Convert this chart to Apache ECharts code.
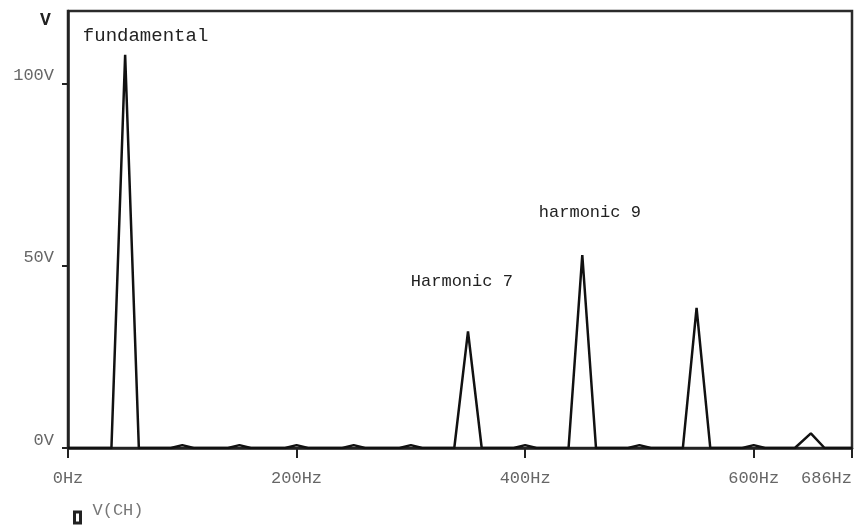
<!DOCTYPE html>
<html>
<head>
<meta charset="utf-8">
<script src="https://cdn.jsdelivr.net/npm/echarts@6/dist/echarts.min.js"></script>
<style>html,body{margin:0;padding:0;background:#fff}#c{width:865px;height:528px}</style>
</head>
<body>
<div id="c"></div>
<script>
// Spectrum samples (Hz, V)
const freqHz = [0, 38, 50, 62, 90, 100, 110, 140, 150, 160, 190, 200, 210, 240, 250, 260, 290, 300, 310, 338, 350, 362, 390, 400, 410, 438, 450, 462, 490, 500, 510, 538, 550, 562, 590, 600, 610, 636, 650, 662, 686];
const volts  = [0, 0, 108, 0, 0, 0.8, 0, 0, 0.8, 0, 0, 0.8, 0, 0, 0.8, 0, 0, 0.8, 0, 0, 32, 0, 0, 0.8, 0, 0, 53, 0, 0, 0.8, 0, 0, 38.5, 0, 0, 0.8, 0, 0, 4, 0, 0];
const yTicks = [0, 50, 100];
const annotationTexts = ['fundamental', 'Harmonic 7', 'harmonic 9'];
const annotationFreq  = [13, 300, 412];
const annotationVolts = [113.2, 45.6, 64.8];
const annotationSizes = [19, 17, 17];
const seriesName = 'V(CH)';

const mono = '"Liberation Mono", "DejaVu Sans Mono", monospace';
const chart = echarts.init(document.getElementById('c'), null, {renderer: 'canvas'});
chart.setOption({
  animation: false,
  backgroundColor: '#fff',
  grid: {left: 68, right: 13, top: 11, bottom: 80, show: true, borderColor: '#2b2b2b', borderWidth: 2.5, containLabel: false},
  legend: {
    left: 73, top: 502, padding: 0,
    data: [seriesName],
    icon: 'path://M0,0H9V14H0Z M3,3V11H6V3Z',
    itemWidth: 10, itemHeight: 14,
    formatter: '{a|{name}}',
    textStyle: {
      fontFamily: mono, fontSize: 17, color: '#777',
      rich: {a: {fontFamily: mono, fontSize: 17, color: '#777', padding: [0, 0, 14, 5]}}
    }
  },
  graphic: [{type: 'text', left: 40, top: 11, style: {text: 'V', font: 'bold 18px ' + mono, fill: '#222'}}],
  xAxis: {
    type: 'value', min: 0, max: 686, interval: 200,
    axisLine: {lineStyle: {color: '#222', width: 2.5}},
    axisTick: {show: true, length: 10, lineStyle: {color: '#222', width: 2}},
    splitLine: {show: false},
    axisLabel: {formatter: v => v + 'Hz', fontFamily: mono, fontSize: 17, color: '#666', margin: 22, showMaxLabel: true, showMinLabel: true, alignMaxLabel: 'right'}
  },
  yAxis: {
    type: 'value', min: 0, max: 120,
    axisLine: {show: true, lineStyle: {color: '#222', width: 2.5}},
    axisTick: {show: true, length: 6, customValues: yTicks, lineStyle: {color: '#222', width: 2}},
    splitLine: {show: false},
    axisLabel: {customValues: yTicks, formatter: v => v + 'V', fontFamily: mono, fontSize: 17, color: '#666', margin: 14, verticalAlign: 'bottom', lineHeight: 16}
  },
  series: [{
    name: seriesName,
    type: 'line',
    data: freqHz.map((f, i) => [f, volts[i]]),
    symbol: 'none',
    color: '#222',
    lineStyle: {color: '#111', width: 2.5},
    markPoint: {
      symbol: 'circle', symbolSize: 0,
      data: annotationTexts.map((t, i) => ({
        name: t, coord: [annotationFreq[i], annotationVolts[i]],
        label: {show: true, formatter: t, position: [0, 0], align: 'left', verticalAlign: 'middle', fontFamily: mono, fontSize: annotationSizes[i], color: '#222'}
      }))
    }
  }]
});
</script>
</body>
</html>
